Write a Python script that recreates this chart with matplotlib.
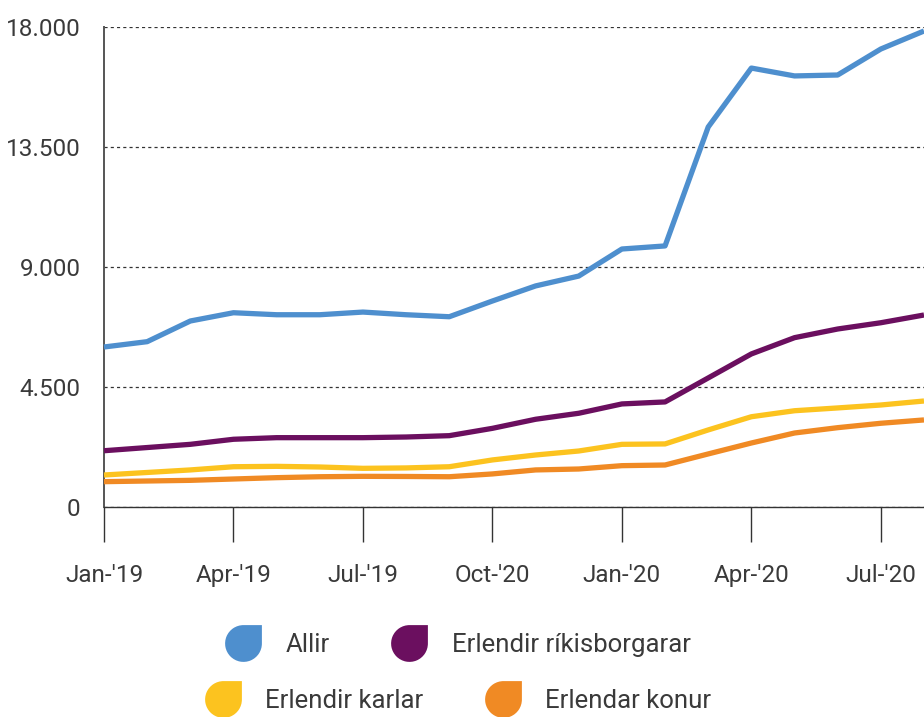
import matplotlib
matplotlib.use("Agg")
import matplotlib.pyplot as plt
from matplotlib.path import Path
from matplotlib.lines import Line2D
import numpy as np

plt.rcParams['font.family'] = ['Roboto', 'DejaVu Sans']

months = ["Jan-'19", "Feb-'19", "Mar-'19", "Apr-'19", "May-'19", "Jun-'19",
          "Jul-'19", "Aug-'19", "Sep-'19", "Oct-'19", "Nov-'19", "Dec-'19",
          "Jan-'20", "Feb-'20", "Mar-'20", "Apr-'20", "May-'20", "Jun-'20",
          "Jul-'20", "Aug-'20"]
tick_labels = ["Jan-'19", "Apr-'19", "Jul-'19", "Oct-'20", "Jan-'20", "Apr-'20", "Jul-'20"]

allir = [6000, 6200, 6975, 7285, 7210, 7210, 7310, 7210, 7135, 7725, 8290, 8660,
         9675, 9790, 14250, 16460, 16165, 16200, 17175, 17850]
rikisborgarar = [2110, 2230, 2350, 2540, 2600, 2600, 2600, 2625, 2675, 2950, 3290, 3515,
                 3865, 3940, 4840, 5740, 6350, 6675, 6910, 7200]
karlar = [1200, 1295, 1390, 1510, 1525, 1500, 1450, 1465, 1510, 1765, 1950, 2100,
          2350, 2365, 2890, 3385, 3610, 3715, 3825, 3975]
konur = [950, 975, 1000, 1050, 1100, 1135, 1150, 1145, 1135, 1240, 1390, 1425,
         1550, 1575, 1990, 2400, 2775, 2975, 3140, 3265]

series_names = ["Allir", "Erlendir ríkisborgarar", "Erlendir karlar", "Erlendar konur"]
colors = ["#4E8FCE", "#6B0F5F", "#FCC31F", "#F08A24"]

yticks = [0, 4500, 9000, 13500, 18000]
ytick_labels = ["0", "4.500", "9.000", "13.500", "18.000"]

W, H = 924, 717
fig = plt.figure(figsize=(W / 100, H / 100), dpi=100)
ax = fig.add_axes([104 / W, (H - 507) / H, 820 / W, 480 / H])

x = np.arange(len(months))
for vals, c in zip([allir, rikisborgarar, karlar, konur], colors):
    ax.plot(x, vals, color=c, lw=3.8, solid_joinstyle='round', solid_capstyle='butt', zorder=3, clip_on=False)

ax.set_xlim(0, 19)
ax.set_ylim(0, 18000)
ax.set_yticks(yticks)
ax.set_yticklabels(ytick_labels)
ax.set_xticks([0, 3, 6, 9, 12, 15, 18])
ax.set_xticklabels(tick_labels)

ax.grid(axis='y', color='#333333', lw=0.9, linestyle=(0, (2.5, 2.5)), zorder=1)
ax.set_axisbelow(True)
for s in ['top', 'right']:
    ax.spines[s].set_visible(False)
ax.spines['left'].set_color('#555555')
ax.spines['left'].set_linewidth(1.4)
ax.spines['bottom'].set_color('#333333')
ax.spines['bottom'].set_linewidth(1.0)

ax.tick_params(axis='y', length=0, pad=17, labelsize=17.5, labelcolor='#3a3a3a')
ax.tick_params(axis='x', direction='out', length=25, width=1.0, color='#333333',
               pad=16, labelsize=17.5, labelcolor='#3a3a3a')

# teardrop marker: circle with square top-right corner
arc = Path.arc(90, 360)
verts = list(arc.vertices) + [(1, 1), (0, 1)]
codes = list(arc.codes) + [Path.LINETO, Path.CLOSEPOLY]
drop = Path(verts, codes)

def handle(c):
    return Line2D([], [], marker=drop, markersize=27, color=c, markerfacecolor=c,
                  markeredgewidth=0, linestyle='None')

common = dict(frameon=False, ncol=2, fontsize=18.5, handlelength=1.4, handletextpad=0.95,
              columnspacing=2.4, borderpad=0, borderaxespad=0, labelcolor='#3a3a3a')
fig.legend([handle(colors[0]), handle(colors[1])], series_names[:2], loc='center',
           bbox_to_anchor=(458 / W, 1 - 645 / H), **common)
fig.legend([handle(colors[2]), handle(colors[3])], series_names[2:], loc='center',
           bbox_to_anchor=(458 / W, 1 - 701 / H), **common)

fig.savefig("out.png", dpi=100)
